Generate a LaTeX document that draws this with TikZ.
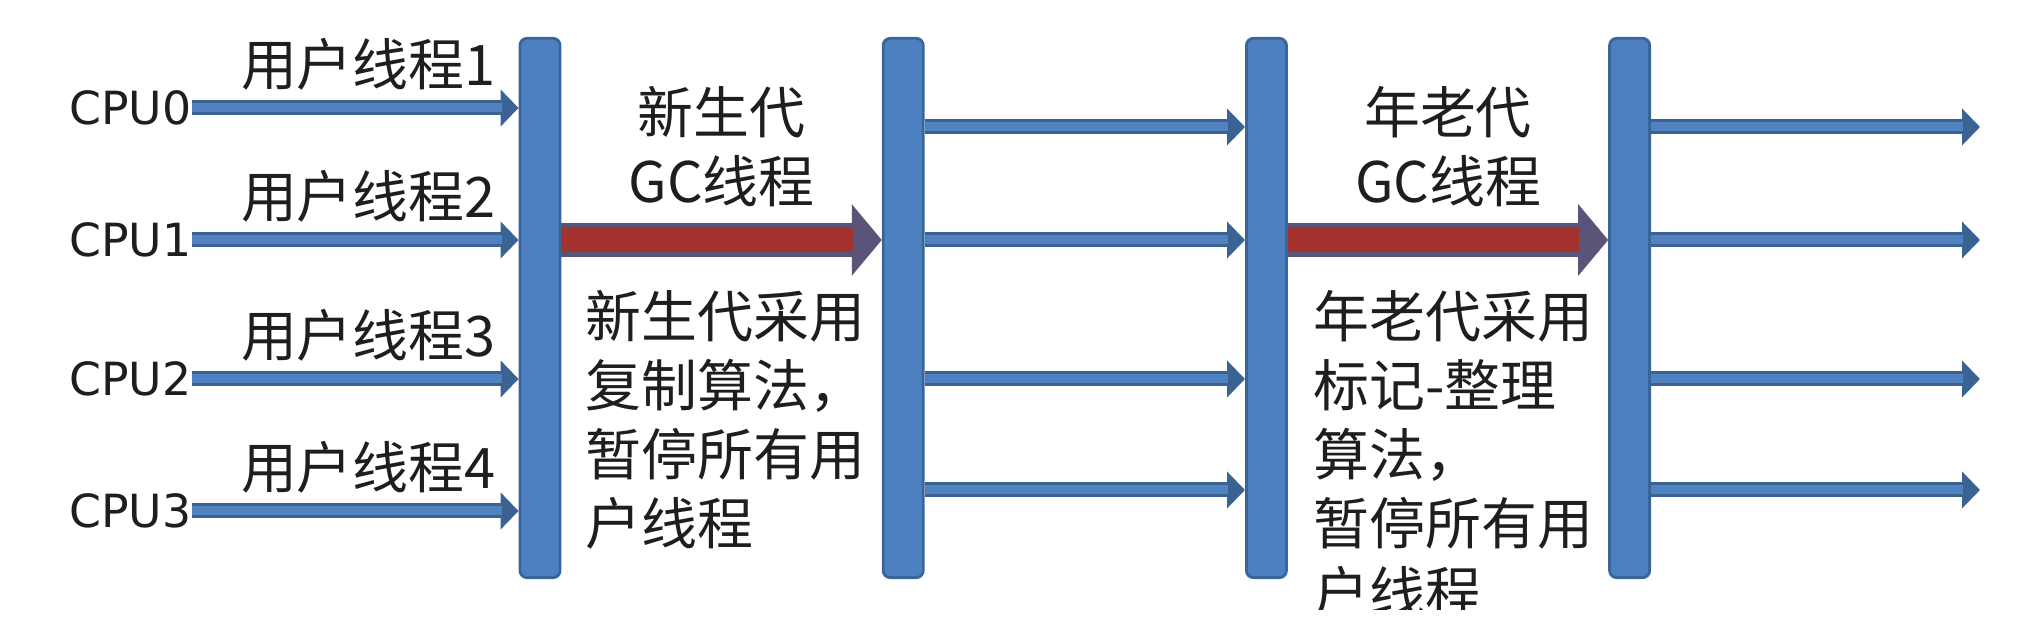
\documentclass[tikz,border=0pt]{standalone}
\usepackage{fontspec}
\setmainfont{Noto Sans CJK SC}
\newfontfamily\cpufont{DejaVu Sans}
\usetikzlibrary{arrows.meta,positioning}
\definecolor{barblue}{HTML}{4D80C0}
\definecolor{barline}{HTML}{3A6599}
\definecolor{flowblue}{HTML}{4F82BF}
\definecolor{flowline}{HTML}{3A6293}
\definecolor{gcred}{HTML}{A3332F}
\definecolor{gcline}{HTML}{5A5478}
\definecolor{txt}{HTML}{1E1E1E}

\begin{document}
\begin{tikzpicture}[x=0.01cm,y=-0.01cm,node distance=3.63cm]
	\tikzstyle{bar} = [rectangle, draw=barline, thick, fill=barblue, rounded corners=2pt, minimum width=0.4cm, minimum height=5.39cm, inner sep=0pt];
	\tikzstyle{cpu} = [anchor=east, inner sep=0pt, text=txt, font=\cpufont\fontsize{13pt}{15pt}\selectfont];
	\tikzstyle{thread} = [inner sep=0pt, text=txt, font=\fontsize{15.9pt}{19.6pt}\selectfont];
	\tikzstyle{note} = [inner sep=0pt, text=txt, align=left, font=\fontsize{15.9pt}{19.6pt}\selectfont];
	\tikzstyle{flow} = [draw=flowblue, line width=0.09cm, shorten >=0.17cm, preaction={draw=flowline, line width=0.15cm, shorten >=0cm, -{Triangle[length=0.18cm,width=0.36cm]}}];
	\tikzstyle{gcflow} = [draw=gcred, line width=0.25cm, shorten >=0.29cm, preaction={draw=gcline, line width=0.34cm, shorten >=0cm, -{Triangle[length=0.30cm,width=0.7cm]}}];

	\useasboundingbox (0,0) rectangle (2020,622);

	% stop-the-world bars
	\node [bar] (bar1) at (540,308) {};
	\node [bar, right of=bar1] (bar2) {};
	\node [bar, right of=bar2] (bar3) {};
	\node [bar, right of=bar3] (bar4) {};

	\node [cpu] (cpu0) at (192,108) {CPU0};
	\node [cpu] (cpu1) at (192,240) {CPU1};
	\node [cpu] (cpu2) at (192,379) {CPU2};
	\node [cpu] (cpu3) at (192,511) {CPU3};

	\coordinate (out0) at (1980,127);
	\coordinate (out1) at (1980,240);
	\coordinate (out2) at (1980,379);
	\coordinate (out3) at (1980,490);

	% user threads
	\draw [flow] (cpu0.east) -- (bar1.west |- cpu0.east) node [thread, pos=0.54, above=3.7pt] {用户线程1};
	\draw [flow] (cpu1.east) -- (bar1.west |- cpu1.east) node [thread, pos=0.54, above=3.7pt] {用户线程2};
	\draw [flow] (cpu2.east) -- (bar1.west |- cpu2.east) node [thread, pos=0.54, above=3.7pt] {用户线程3};
	\draw [flow] (cpu3.east) -- (bar1.west |- cpu3.east) node [thread, pos=0.54, above=3.7pt] {用户线程4};

	% young generation gc
	\draw [gcflow] (bar1.east |- cpu1.east) -- (bar2.west |- cpu1.east) node [note, midway, above=6pt, align=center] {新生代\\GC线程};
	\node [note, anchor=north west] (ygnote) at (585,290) {新生代采用\\复制算法，\\暂停所有用\\户线程};

	\draw [flow] (bar2.east |- out0) -- (bar3.west |- out0);
	\draw [flow] (bar2.east |- out1) -- (bar3.west |- out1);
	\draw [flow] (bar2.east |- out2) -- (bar3.west |- out2);
	\draw [flow] (bar2.east |- out3) -- (bar3.west |- out3);

	% old generation gc
	\draw [gcflow] (bar3.east |- out1) -- (bar4.west |- out1) node [note, midway, above=6pt, align=center] {年老代\\GC线程};
	\begin{scope}
		\clip (0,0) rectangle (2020,610);
		\node [note, anchor=north west] (ognote) at (1313,290) {年老代采用\\标记-整理\\算法，\\暂停所有用\\户线程};
	\end{scope}

	\draw [flow] (bar4.east |- out0) -- (out0);
	\draw [flow] (bar4.east |- out1) -- (out1);
	\draw [flow] (bar4.east |- out2) -- (out2);
	\draw [flow] (bar4.east |- out3) -- (out3);

\end{tikzpicture}
\end{document}
